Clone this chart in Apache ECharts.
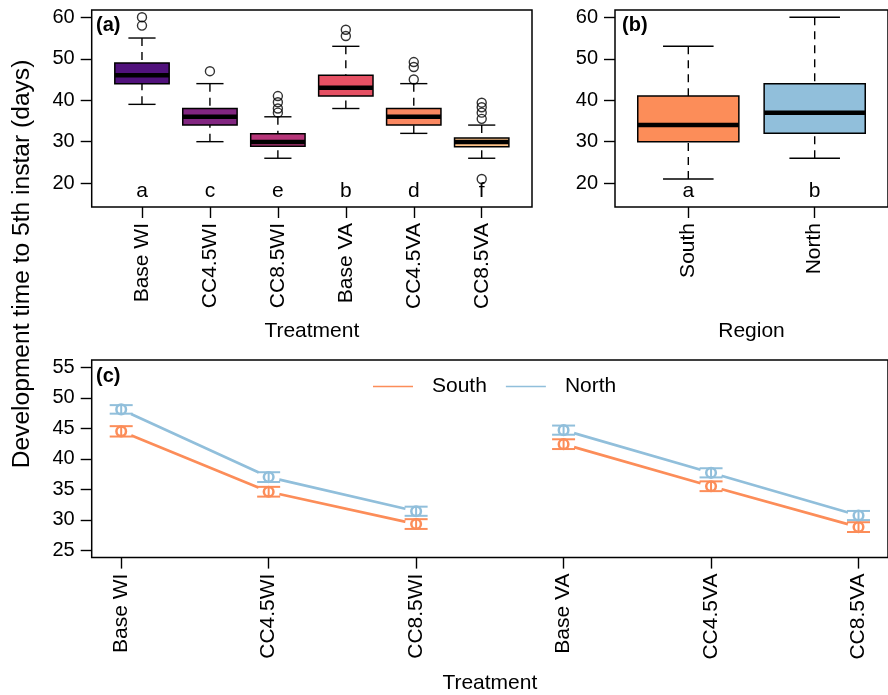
<!DOCTYPE html>
<html><head><meta charset="utf-8">
<script src="https://cdn.jsdelivr.net/npm/echarts@6/dist/echarts.min.js"></script>
<style>html,body{margin:0;padding:0;background:#fff}#c{width:888px;height:695px}</style>
</head><body><div id="c"></div>
<script>
// ---------- data ----------
// panel (a): treatment boxplots [lower whisker, Q1, median, Q3, upper whisker]
const catsA = ['Base WI', 'CC4.5WI', 'CC8.5WI', 'Base VA', 'CC4.5VA', 'CC8.5VA'];
const baseWI = [39, 44, 46, 49, 55];
const cc45WI = [30, 34, 36, 38, 44];
const cc85WI = [26, 28.9, 29.9, 31.9, 36];
const baseVA = [38, 41, 43, 46, 53];
const cc45VA = [32, 34, 36, 38, 44];
const cc85VA = [26, 28.8, 29.9, 30.9, 34];
const outBaseWI = [58, 60];
const outCC45WI = [47];
const outCC85WI = [37, 38, 39.5, 41];
const outBaseVA = [55.5, 57];
const outCC45VA = [45, 48, 49.2];
const outCC85VA = [21, 35.5, 37, 38.3, 39.4];
const lettersA = ['a', 'c', 'e', 'b', 'd', 'f'];
const fillsA = ['#51127C', '#822681', '#B63679', '#E65164', '#FB8861', '#FEC287'];
// panel (b): region boxplots
const catsB = ['South', 'North'];
const southBox = [21, 30, 34, 41, 53];
const northBox = [26, 32, 37, 44, 60];
const lettersB = ['a', 'b'];
const fillsB = ['#FC8D59', '#91BFDB'];
const yTicksAB = [20, 30, 40, 50, 60];
// panel (c): means and standard errors
const catsC = catsA;
const southMean = [44.5, 34.6, 29.3, 42.4, 35.5, 28.8];
const southSE = [0.85, 0.8, 0.8, 0.8, 0.8, 0.8];
const northMean = [48.1, 37.0, 31.4, 44.7, 37.7, 30.7];
const northSE = [0.7, 0.8, 0.75, 0.75, 0.75, 0.75];
const yTicksC = [25, 30, 35, 40, 45, 50, 55];
const letterLevel = 18;

// ---------- build ----------
const FONT = 'Liberation Sans, Arial, Helvetica, sans-serif';
const boxesA = [baseWI, cc45WI, cc85WI, baseVA, cc45VA, cc85VA].map((s, i) => [i + 1].concat(s));
const outliersA = [outBaseWI, outCC45WI, outCC85WI, outBaseVA, outCC45VA, outCC85VA]
  .flatMap((arr, i) => arr.map(v => [i + 1, v]));
const boxesB = [southBox, northBox].map((s, i) => [i + 1].concat(s));
const lettA = lettersA.map((l, i) => [i + 1, letterLevel, l]);
const lettB = lettersB.map((l, i) => [i + 1, letterLevel, l]);

function boxRenderer(fills) {
  return function (params, api) {
    const x = api.value(0);
    const p = [1, 2, 3, 4, 5].map(d => api.coord([x, api.value(d)]));
    const cx = p[0][0];
    const half = api.size([0.4, 0])[0];
    const capHalf = api.size([0.2, 0])[0];
    const ls = { stroke: '#000', lineWidth: 1.4 };
    const dash = { stroke: '#000', lineWidth: 1.4, lineDash: [8, 6] };
    return {
      type: 'group',
      children: [
        { type: 'line', shape: { x1: cx, y1: p[0][1], x2: cx, y2: p[1][1] }, style: dash },
        { type: 'line', shape: { x1: cx, y1: p[4][1], x2: cx, y2: p[3][1] }, style: dash },
        { type: 'line', shape: { x1: cx - capHalf, y1: p[0][1], x2: cx + capHalf, y2: p[0][1] }, style: ls },
        { type: 'line', shape: { x1: cx - capHalf, y1: p[4][1], x2: cx + capHalf, y2: p[4][1] }, style: ls },
        { type: 'rect', shape: { x: cx - half, y: p[3][1], width: 2 * half, height: p[1][1] - p[3][1] },
          style: { fill: fills[params.dataIndex], stroke: '#000', lineWidth: 1.5 } },
        { type: 'line', shape: { x1: cx - half, y1: p[2][1], x2: cx + half, y2: p[2][1] },
          style: { stroke: '#000', lineWidth: 4.5 } }
      ]
    };
  };
}
function letterRenderer(params, api) {
  const c = api.coord([api.value(0), api.value(1)]);
  return { type: 'text', x: c[0], y: c[1],
    style: { text: api.value(2), fontSize: 21, fontFamily: FONT, fill: '#000', align: 'center', verticalAlign: 'middle' } };
}
function errRenderer(color) {
  return function (params, api) {
    const x = api.value(0), m = api.value(1), se = api.value(2);
    const c = api.coord([x, m]);
    const top = api.coord([x, m + se])[1], bot = api.coord([x, m - se])[1];
    const st = { stroke: color, lineWidth: 2 };
    return { type: 'group', children: [
      { type: 'line', shape: { x1: c[0], y1: top, x2: c[0], y2: bot }, style: st },
      { type: 'line', shape: { x1: c[0] - 11.5, y1: top, x2: c[0] + 11.5, y2: top }, style: st },
      { type: 'line', shape: { x1: c[0] - 11.5, y1: bot, x2: c[0] + 11.5, y2: bot }, style: st },
      { type: 'circle', shape: { cx: c[0], cy: c[1], r: 4.8 }, style: { fill: 'none', stroke: color, lineWidth: 2.5 } }
    ] };
  };
}
const southData = southMean.map((m, i) => [i + 1, m, southSE[i]]);
const northData = northMean.map((m, i) => [i + 1, m, northSE[i]]);
function lineSeries(name, data, color) {
  return { type: 'line', name: name, xAxisIndex: 2, yAxisIndex: 2, data: data,
    symbol: 'circle', symbolSize: 22, showSymbol: true,
    itemStyle: { color: '#fff', borderWidth: 0 },
    lineStyle: { color: color, width: 2.7 }, z: 2, silent: true };
}

const tickStyle = { show: true, inside: false, length: 11, lineStyle: { color: '#000', width: 1.4 } };
function yAxis(idx, min, max, ticks) {
  return { type: 'value', gridIndex: idx, min: min, max: max, splitLine: { show: false },
    axisLine: { show: false }, axisTick: Object.assign({ customValues: ticks }, tickStyle),
    axisLabel: { customValues: ticks, fontSize: 20, fontFamily: FONT, color: '#000', margin: 17 } };
}
function xAxis(idx, min, max, cats, name, gap) {
  const vals = cats.map((c, i) => i + 1);
  return { type: 'value', gridIndex: idx, min: min, max: max, splitLine: { show: false },
    axisLine: { show: false }, axisTick: Object.assign({ customValues: vals }, tickStyle),
    axisLabel: { customValues: vals, rotate: 90, fontSize: 21, fontFamily: FONT, color: '#000', margin: 16,
      formatter: v => cats[Math.round(v) - 1] },
    name: name, nameLocation: 'middle', nameGap: gap,
    nameTextStyle: { fontSize: 21, fontFamily: FONT, color: '#000' } };
}
const gridStyle = { show: true, borderColor: '#000', borderWidth: 1.5, backgroundColor: 'transparent' };

const option = {
  animation: false,
  backgroundColor: '#fff',
  textStyle: { fontFamily: FONT },
  grid: [
    Object.assign({ left: 91.7, top: 10, width: 440.3, height: 197 }, gridStyle),
    Object.assign({ left: 615, top: 10, width: 280, height: 197 }, gridStyle),
    Object.assign({ left: 91.7, top: 360, width: 803.3, height: 197.6 }, gridStyle)
  ],
  xAxis: [
    xAxis(0, 0.26, 6.74, catsA, 'Treatment', 114),
    xAxis(1, 0.42, 2.58, catsB, 'Region', 114),
    xAxis(2, 0.8, 6.2, catsC, 'Treatment', 115)
  ],
  yAxis: [
    yAxis(0, 14.24, 61.76, yTicksAB),
    yAxis(1, 14.24, 61.76, yTicksAB),
    yAxis(2, 23.8, 56.2, yTicksC)
  ],
  title: [
    { text: '(a)', left: 96, top: 15, padding: 0, textStyle: { fontSize: 20, fontWeight: 'bold', color: '#000', fontFamily: FONT } },
    { text: '(b)', left: 622, top: 15, padding: 0, textStyle: { fontSize: 20, fontWeight: 'bold', color: '#000', fontFamily: FONT } },
    { text: '(c)', left: 96, top: 366, padding: 0, textStyle: { fontSize: 20, fontWeight: 'bold', color: '#000', fontFamily: FONT } }
  ],
  legend: {
    left: 373, top: 376, padding: 0, itemWidth: 40, itemHeight: 1.6, itemGap: 19,
    textStyle: { fontSize: 21, fontFamily: FONT, color: '#000', padding: [0, 0, 0, 14] },
    data: [
      { name: 'South', icon: 'rect', itemStyle: { color: fillsB[0] } },
      { name: 'North', icon: 'rect', itemStyle: { color: fillsB[1] } }
    ]
  },
  graphic: [
    { type: 'text', x: 22, y: 264, rotation: Math.PI / 2,
      style: { text: 'Development time to 5th instar (days)', fontSize: 24.6, fontFamily: FONT, fill: '#000',
        align: 'center', verticalAlign: 'middle' } }
  ],
  series: [
    { type: 'custom', xAxisIndex: 0, yAxisIndex: 0, data: boxesA, renderItem: boxRenderer(fillsA),
      encode: { x: 0, y: [1, 2, 3, 4, 5] }, silent: true },
    { type: 'scatter', xAxisIndex: 0, yAxisIndex: 0, data: outliersA, symbol: 'circle', symbolSize: 9,
      itemStyle: { color: 'rgba(0,0,0,0)', borderColor: '#000', borderWidth: 1.4 }, silent: true },
    { type: 'custom', xAxisIndex: 0, yAxisIndex: 0, data: lettA, renderItem: letterRenderer,
      encode: { x: 0, y: 1 }, silent: true },
    { type: 'custom', xAxisIndex: 1, yAxisIndex: 1, data: boxesB, renderItem: boxRenderer(fillsB),
      encode: { x: 0, y: [1, 2, 3, 4, 5] }, silent: true },
    { type: 'custom', xAxisIndex: 1, yAxisIndex: 1, data: lettB, renderItem: letterRenderer,
      encode: { x: 0, y: 1 }, silent: true },
    lineSeries('South', southData.slice(0, 3).map(d => [d[0], d[1]]), fillsB[0]),
    lineSeries('South', southData.slice(3).map(d => [d[0], d[1]]), fillsB[0]),
    lineSeries('North', northData.slice(0, 3).map(d => [d[0], d[1]]), fillsB[1]),
    lineSeries('North', northData.slice(3).map(d => [d[0], d[1]]), fillsB[1]),
    { type: 'custom', name: 'South', xAxisIndex: 2, yAxisIndex: 2, data: southData, renderItem: errRenderer(fillsB[0]),
      encode: { x: 0, y: 1 }, z: 4, silent: true },
    { type: 'custom', name: 'North', xAxisIndex: 2, yAxisIndex: 2, data: northData, renderItem: errRenderer(fillsB[1]),
      encode: { x: 0, y: 1 }, z: 4, silent: true }
  ]
};
const chart = echarts.init(document.getElementById('c'), null, { renderer: 'canvas' });
chart.setOption(option);
</script>
</body></html>
